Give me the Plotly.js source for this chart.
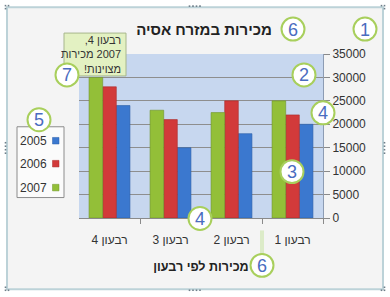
<!DOCTYPE html>
<html>
<head>
<meta charset="utf-8">
<script src="https://cdn.plot.ly/plotly-3.0.1.min.js"></script>
<style>html,body{margin:0;padding:0;background:#fff;}#chart{width:390px;height:297px;}</style>
</head>
<body>
<div id="chart"></div>
<script>
// ---- data ----
var categories = ['רבעון 1', 'רבעון 2', 'רבעון 3', 'רבעון 4'];
var seriesNames = ['2005', '2006', '2007'];
var sales2005 = [20000, 18000, 15000, 24000];
var sales2006 = [22000, 25000, 21000, 28000];
var sales2007 = [25000, 22500, 23000, 30000];
var yTickValues = [0, 5000, 10000, 15000, 20000, 25000, 30000, 35000];
var chartTitle = 'מכירות במזרח אסיה';
var xTitle = 'מכירות לפי רבעון';
var calloutLines = ['רבעון 4,', '2007 מכירות', 'מצוינות!'];

// right-to-left embedding for the mixed Hebrew/number callout lines
function rtl(s) { return '\u202B' + s + '\u202C'; }
var colors = ['#3b78cf', '#d23a3a', '#93bf38'];
var lineColors = ['#2a5ea8', '#a82a2a', '#6f9428'];
var seriesValues = [sales2005, sales2006, sales2007];

// plot-area pixel geometry
var L = 79, R = 323, T = 54, B = 218.5;
function px(x) { return (x - L) / (R - L); }
function py(y) { return (B - y) / (B - T); }

var traces = seriesNames.map(function (n, i) {
  return {
    type: 'bar', name: n, x: categories, y: seriesValues[i],
    marker: { color: colors[i], line: { color: lineColors[i], width: 0.6 } },
    showlegend: false, hoverinfo: 'x+y+name'
  };
});

var shapes = [];
// chart frame
shapes.push({ type: 'rect', xref: 'paper', yref: 'paper', layer: 'below',
  x0: px(7), x1: px(383), y0: py(7), y1: py(290),
  fillcolor: '#f4f4f4', line: { color: '#bcd2d8', width: 2 } });
// plot area background
shapes.push({ type: 'rect', xref: 'paper', yref: 'paper', layer: 'below',
  x0: 0, x1: 1, y0: 0, y1: 1, fillcolor: '#c7d7ef', line: { width: 0 } });
// legend box
shapes.push({ type: 'rect', xref: 'paper', yref: 'paper', layer: 'above',
  x0: px(17), x1: px(64), y0: py(127), y1: py(198),
  fillcolor: '#fbfbfb', line: { color: '#8c8c8c', width: 1 } });
var legendY = [141, 164, 188];
var annotations = [];
seriesNames.forEach(function (n, i) {
  shapes.push({ type: 'rect', xref: 'paper', yref: 'paper', layer: 'above',
    x0: px(52.5), x1: px(59), y0: py(legendY[i] - 3.3), y1: py(legendY[i] + 3.3),
    fillcolor: colors[i], line: { color: lineColors[i], width: 0.5 } });
  annotations.push({ xref: 'paper', yref: 'paper', x: px(49), y: py(legendY[i]),
    xanchor: 'right', yanchor: 'middle', showarrow: false, text: n,
    font: { size: 12, color: '#333' } });
});
// tooltip box
shapes.push({ type: 'rect', xref: 'paper', yref: 'paper', layer: 'above',
  x0: px(64), x1: px(126), y0: py(33), y1: py(76),
  fillcolor: '#e3f1c2', line: { color: '#a7b68c', width: 1 } });
annotations.push({ xref: 'paper', yref: 'paper', x: px(123), y: py(54.5),
  xanchor: 'right', yanchor: 'middle', showarrow: false, align: 'right',
  text: calloutLines.map(rtl).join('<br>'),
  font: { size: 11, color: '#333' } });
// faint connector under bottom callout
shapes.push({ type: 'line', xref: 'paper', yref: 'paper', layer: 'above',
  x0: px(262), x1: px(262), y0: py(231), y1: py(255),
  line: { color: '#dcebc8', width: 4 } });
// numbered callouts
var callouts = [
  ['1', 365, 29], ['6', 293, 29], ['2', 304, 75], ['7', 67, 75],
  ['4', 323, 113], ['5', 39, 120], ['3', 292, 172], ['4', 200, 219], ['6', 262, 266]
];
callouts.forEach(function (c) {
  var r = 11.5;
  shapes.push({ type: 'circle', xref: 'paper', yref: 'paper', layer: 'above',
    x0: px(c[1] - r), x1: px(c[1] + r), y0: py(c[2] - r), y1: py(c[2] + r),
    fillcolor: '#ffffff', line: { color: '#a8cf5c', width: 2 } });
  annotations.push({ xref: 'paper', yref: 'paper', x: px(c[1]), y: py(c[2] + 0.5),
    xanchor: 'center', yanchor: 'middle', showarrow: false, text: c[0],
    font: { size: 18, color: '#4a6cc0' } });
});
// selection handle dots
function dot(x, y) {
  shapes.push({ type: 'rect', xref: 'paper', yref: 'paper', layer: 'above',
    x0: px(x - 0.8), x1: px(x + 0.8), y0: py(y - 0.8), y1: py(y + 0.8),
    fillcolor: '#6f7f8a', line: { width: 0 } });
}
[189.5, 193, 196.5, 200].forEach(function (x) { dot(x, 6); dot(x, 291); });
[143, 146.5, 150, 153.5].forEach(function (y) { dot(5.5, y); dot(384.5, y); });
[[5.5, 5.5], [8.5, 5.5], [5.5, 8.5], [384.5, 5.5], [381.5, 5.5], [384.5, 8.5],
 [5.5, 291], [8.5, 291], [5.5, 288], [384.5, 291], [381.5, 291], [384.5, 288]]
  .forEach(function (p) { dot(p[0], p[1]); });

var layout = {
  width: 390, height: 297,
  margin: { l: L, r: 390 - R, t: T, b: 297 - B },
  paper_bgcolor: '#ffffff', plot_bgcolor: 'rgba(0,0,0,0)',
  font: { family: 'Liberation Sans, DejaVu Sans, sans-serif', color: '#333' },
  title: { text: chartTitle, x: 204 / 390, xanchor: 'center', y: 1 - 30 / 297, yanchor: 'middle',
    font: { size: 15, color: '#222', weight: 'bold' } },
  barmode: 'group', bargap: 0.33, bargroupgap: 0,
  showlegend: false,
  xaxis: {
    type: 'category', autorange: 'reversed', categoryorder: 'array', categoryarray: categories,
    showgrid: false, zeroline: false, showline: true, linecolor: '#8a8a8a', linewidth: 1,
    ticks: 'outside', tickson: 'boundaries', ticklen: 5, tickcolor: '#8a8a8a',
    tickangle: 0, ticklabelstandoff: 11,
    tickfont: { size: 12, color: '#333' },
    title: { text: xTitle, standoff: 15, font: { size: 12.5, color: '#222', weight: 'bold' } },
    automargin: false, fixedrange: true
  },
  yaxis: {
    side: 'right', range: [0, 35000], tickvals: yTickValues, tickmode: 'array',
    tickformat: 'd',
    showgrid: true, gridcolor: '#8e8e8e', gridwidth: 1, zeroline: false,
    showline: true, linecolor: '#8d9cb3', linewidth: 1,
    ticks: 'outside', ticklen: 6, tickcolor: '#8a8a8a',
    tickfont: { size: 12, color: '#333' }, automargin: false, fixedrange: true
  },
  shapes: shapes,
  annotations: annotations
};

Plotly.newPlot('chart', traces, layout, { displayModeBar: false, staticPlot: true });
</script>
</body>
</html>
